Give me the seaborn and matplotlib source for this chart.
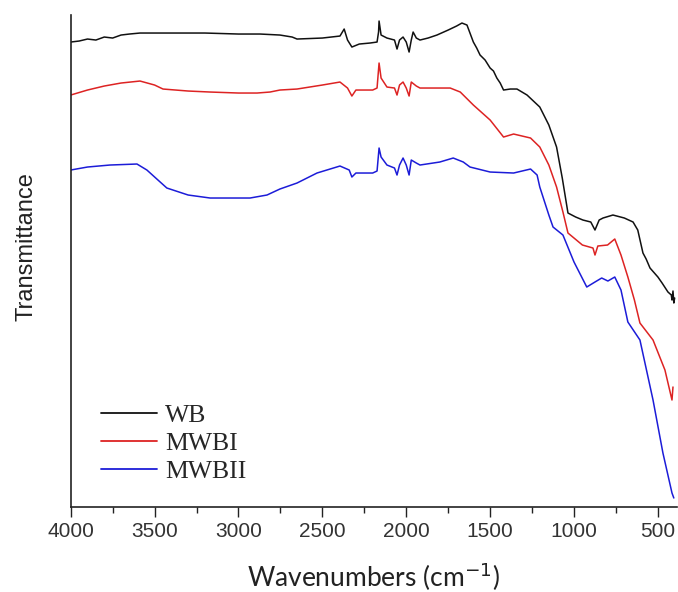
import numpy as np
import pandas as pd
import matplotlib
matplotlib.use("Agg")
import matplotlib.pyplot as plt
import seaborn as sns
from matplotlib.lines import Line2D

# ---- data (wavenumber, transmittance in arbitrary units) ----
wb_wn = [4000, 3950, 3900, 3850, 3800, 3750, 3700, 3650, 3587, 3400, 3200, 3000, 2871, 2753,
         2680, 2651, 2500, 2395, 2370, 2350, 2324, 2280, 2216, 2174, 2165, 2162, 2150, 2115,
         2070, 2055, 2040, 2019, 2000, 1983, 1970, 1959, 1940, 1918, 1870, 1817, 1750, 1700,
         1668, 1638, 1600, 1580, 1560, 1530, 1500, 1480, 1460, 1440, 1420, 1380, 1340, 1280,
         1204, 1150, 1104, 1070, 1036, 990, 947, 900, 875, 850, 827, 768, 700, 648, 620, 589,
         570, 547, 500, 475, 440, 420, 416, 410, 405, 400]
wb_t = [465, 466, 468, 467, 470, 469, 472, 473, 474, 474, 474, 473, 473, 472,
        470, 468, 469, 471, 478, 467, 460, 463, 464, 465, 475, 486, 472, 469,
        467, 458, 467, 470, 465, 455, 467, 475, 469, 467, 469, 472, 477, 481,
        484, 482, 465, 459, 452, 447, 439, 436, 429, 424, 417, 418, 418, 412,
        400, 382, 360, 329, 294, 290, 287, 285, 277, 287, 289, 292, 289, 285, 277, 254,
        248, 239, 230, 224, 215, 212, 207, 216, 204, 209]

mwbi_wn = [4000, 3900, 3800, 3700, 3587, 3500, 3450, 3300, 3169, 3000, 2889, 2812, 2753, 2651,
           2500, 2395, 2350, 2324, 2300, 2200, 2174, 2162, 2150, 2115, 2070, 2055, 2040, 2019,
           2000, 1983, 1970, 1940, 1918, 1800, 1738, 1678, 1600, 1500, 1420, 1360, 1259, 1204,
           1150, 1104, 1066, 1036, 950, 887, 875, 858, 800, 757, 720, 679, 640, 607, 529, 458,
           416, 410]
mwbi_t = [412, 417, 421, 424, 426, 422, 418, 416, 415, 414, 414, 415, 417, 418,
          422, 425, 419, 411, 417, 417, 419, 444, 429, 420, 419, 412, 422, 425,
          419, 411, 425, 421, 419, 419, 419, 415, 402, 387, 370, 373, 369, 360,
          342, 320, 295, 274, 262, 259, 252, 261, 262, 268, 252, 230, 207, 184, 167, 137,
          107, 120]

mwbii_wn = [4000, 3900, 3766, 3605, 3546, 3480, 3427, 3300, 3169, 3000, 2931, 2830, 2753, 2651,
            2532, 2395, 2340, 2324, 2300, 2200, 2174, 2162, 2150, 2115, 2070, 2055, 2040, 2019,
            2000, 1983, 1970, 1940, 1918, 1800, 1720, 1660, 1620, 1500, 1360, 1259, 1220, 1204,
            1150, 1125, 1066, 1000, 924, 875, 835, 798, 757, 720, 679, 607, 529, 470, 416, 405]
mwbii_t = [337, 340, 342, 343, 337, 327, 319, 312, 309, 309, 309, 312, 318, 324,
           334, 341, 337, 330, 334, 334, 336, 359, 350, 342, 339, 332, 342, 349,
           342, 332, 347, 344, 342, 345, 349, 345, 340, 335, 334, 338, 332, 320,
           292, 280, 272, 245, 220, 225, 229, 226, 230, 217, 185, 167, 107, 54, 14, 9]

series_names = ["WB", "MWBI", "MWBII"]
series_colors = ["#111111", "#dd2323", "#1c1cd8"]
x_ticks = [4000, 3500, 3000, 2500, 2000, 1500, 1000, 500]

frames = []
for name, wn, t in zip(series_names, [wb_wn, mwbi_wn, mwbii_wn], [wb_t, mwbi_t, mwbii_t]):
    frames.append(pd.DataFrame({"wn": wn, "T": t, "sample": name}))
df = pd.concat(frames, ignore_index=True)

sns.set_style("white")
plt.rcParams["font.family"] = ["Liberation Sans", "DejaVu Sans"]

fig = plt.figure(figsize=(6.78, 5.92), dpi=100)
ax = fig.add_axes([0.1043, 0.1436, 0.894, 0.831])

sns.lineplot(data=df, x="wn", y="T", hue="sample", palette=dict(zip(series_names, series_colors)),
             sort=False, estimator=None, linewidth=1.1, ax=ax, legend=False)

ax.set_xlim(4000, 387)
ax.set_ylim(0, 492)
ax.set_xticks(x_ticks)
ax.set_xticklabels([str(v) for v in x_ticks], fontsize=15, color="#333333")
ax.set_xticks([3750, 3250, 2750, 2250, 1750, 1250, 750], minor=True)
ax.tick_params(axis="x", which="major", direction="out", length=7, width=1.0, pad=4,
               bottom=True, color="#222222")
ax.tick_params(axis="x", which="minor", direction="out", length=4, width=1.0,
               bottom=True, color="#222222")
ax.set_yticks([])
for s in ["top", "right"]:
    ax.spines[s].set_visible(False)
for s in ["left", "bottom"]:
    ax.spines[s].set_visible(True)
    ax.spines[s].set_color("#222222")
    ax.spines[s].set_linewidth(1.2)

ax.set_xlabel("Wavenumbers (cm$^{-1}$)", fontsize=19, family=["Lato", "DejaVu Sans"],
              labelpad=14, color="#222222")
ax.set_ylabel("Transmittance", fontsize=17, color="#222222")
ax.yaxis.set_label_coords(-0.055, 0.53)

handles = [Line2D([], [], color=c, lw=1.3) for c in series_colors]
ax.legend(handles, series_names, loc="lower left", bbox_to_anchor=(0.02, 0.012),
          frameon=False, prop={"family": "Liberation Serif", "size": 18.5},
          handlelength=2.2, handletextpad=0.3, labelspacing=0.2, borderpad=0.2)

fig.savefig("out.png", dpi=100)
